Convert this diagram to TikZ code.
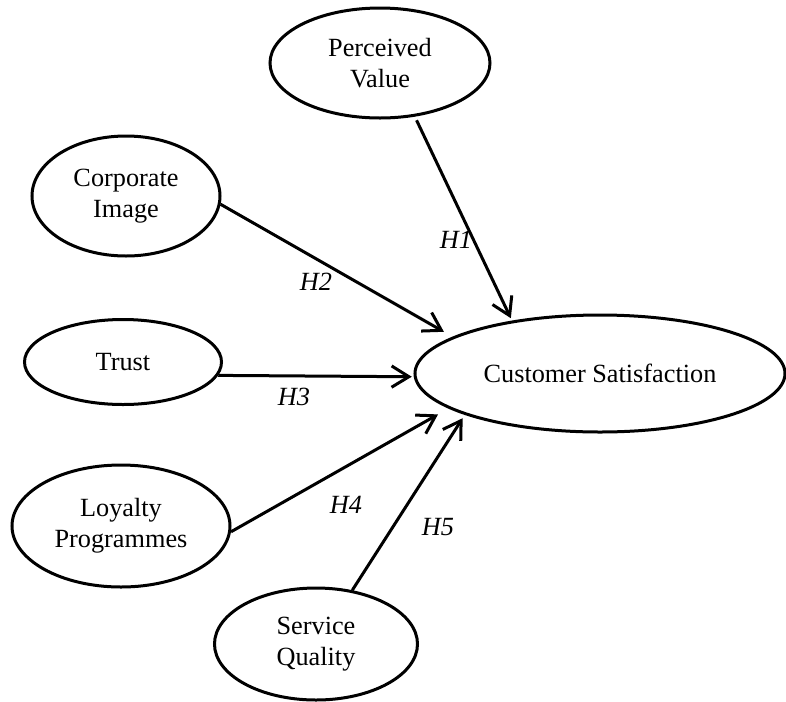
\documentclass[tikz,border=0pt]{standalone}
\usepackage{fontspec}
\setmainfont{Liberation Serif}
\usetikzlibrary{shapes.geometric,arrows.meta}

\begin{document}
\begin{tikzpicture}[x=0.75pt,y=-0.75pt,
  construct/.style={ellipse,draw,line width=2.25pt,inner sep=0pt,
    align=center,font=\fontsize{19.7}{23.5}\selectfont},
  hyp/.style={font=\fontsize{19.7}{23.5}\selectfont\itshape,inner sep=0pt},
  link/.style={line width=2.25pt,
    -{Straight Barb[length=13pt,width=16pt,line width=2.25pt]}}]

  % page frame
  \useasboundingbox (0,0) rectangle (786,701);

  % constructs
  \node[construct,minimum width=165pt,minimum height=82.5pt]   (pv) at (380,63)    {Perceived\\Value};
  \node[construct,minimum width=141pt,minimum height=90pt]     (ci) at (126,196)   {Corporate\\Image};
  \node[construct,minimum width=147.75pt,minimum height=63.75pt] (tr) at (123,362) {Trust};
  \node[construct,minimum width=277.5pt,minimum height=87.75pt] (cs) at (600,373.5) {Customer Satisfaction};
  \node[construct,minimum width=163.5pt,minimum height=91.5pt] (lp) at (121,526)   {Loyalty\\Programmes};
  \node[construct,minimum width=152.25pt,minimum height=84pt]  (sq) at (316,644)   {Service\\Quality};

  % hypothesised paths
  \draw[link,shorten <=3pt,shorten >=2pt] (pv.-57)   -- (cs.149);
  \draw[link,shorten >=7.5pt]             (ci.-5.5)  -- (cs.166.7);
  \draw[link,shorten >=1.5pt]             (tr.-8)    -- (cs.181);
  \draw[link,shorten >=9pt]               (lp.-3.7)  -- (cs.193.9);
  \draw[link,shorten >=3pt]               (sq.56.5)  -- (cs.197.8);

  % path labels
  \node[hyp] (h1) at (456,240) {H1};
  \node[hyp] (h2) at (316,282) {H2};
  \node[hyp] (h3) at (294,397) {H3};
  \node[hyp] (h4) at (346,505) {H4};
  \node[hyp] (h5) at (438,527) {H5};
\end{tikzpicture}
\end{document}
